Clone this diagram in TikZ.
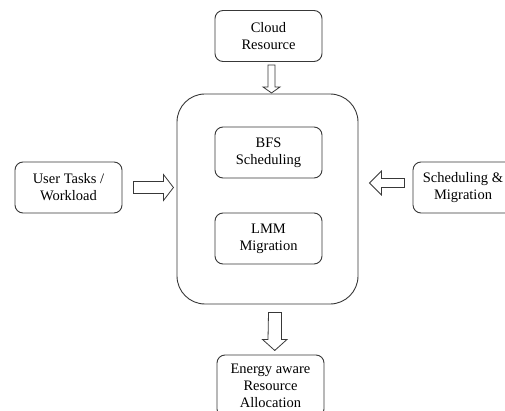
\documentclass[tikz,border=0pt]{standalone}
\usepackage{fontspec}
\setmainfont{Liberation Serif}
\usetikzlibrary{calc}

\tikzset{
  edgecol/.style={draw=black!78, line width=0.9pt},
  box/.style={edgecol, rounded corners=8pt, inner sep=0pt,
    minimum width=107pt, minimum height=51pt, align=center,
    font=\fontsize{14.5}{17}\selectfont},
  label text/.style={inner sep=0pt, align=center,
    font=\fontsize{14.5}{17}\selectfont},
  outerbox/.style={edgecol, rounded corners=28pt, inner sep=0pt,
    minimum width=181pt, minimum height=210pt},
  hollow/.style={edgecol, line width=0.8pt, fill=white, line join=miter}
}

\begin{document}
\begin{tikzpicture}[x=1pt, y=-1pt]
  \useasboundingbox (0,0) rectangle (505,411);
  \clip (0,0) rectangle (505,411);
  \fill[white] (0,0) rectangle (505,411);

  % central block and its two stages
  \node[outerbox] (core) at (267.5,199) {};
  \node[box] (bfs) at (268.5,152.5) {BFS\\Scheduling};
  \node[box] (lmm) at (268.5,238.5) {LMM\\Migration};

  % surrounding inputs and output
  \node[box] (cloud) at (268.5,36) {Cloud\\Resource};
  \node[box] (tasks) at (68.5,187.5) {User Tasks /\\Workload};
  \node[box] (sched) at (466.5,187.5) {};
  \node[label text] (schedtext) at ($(sched.center)+(-3.5,0)$)
    {Scheduling \&\\Migration};
  \node[box, minimum height=62pt] (energy) at (270.5,386)
    {Energy aware\\Resource\\Allocation};

  % anchor points of the block arrows
  \coordinate (topin)  at ($(cloud.south)+(3,3)$);
  \coordinate (leftin) at ($(tasks.east)+(11,0)$);
  \coordinate (rightin) at ($(sched.west)+(-8,-4.5)$);
  \coordinate (botout) at ($(core.south)+(7.5,8)$);

  % Cloud Resource -> core
  \draw[hollow] ($(topin)+(-3.5,0)$) -- ++(7,0) -- ++(0,22) -- ++(5,0)
    -- ++(-8.5,6) -- ++(-8.5,-6) -- ++(5,0) -- cycle;
  % User Tasks -> core
  \draw[hollow] ($(leftin)+(0,-6)$) -- ++(30,0) -- ++(0,-7) -- ++(10,13)
    -- ++(-10,13) -- ++(0,-7) -- ++(-30,0) -- cycle;
  % Scheduling & Migration -> core
  \draw[hollow] ($(rightin)+(0,-4.5)$) -- ++(-23,0) -- ++(0,-7.5)
    -- ++(-12,12) -- ++(12,12) -- ++(0,-7.5) -- ++(23,0) -- cycle;
  % core -> Energy aware Resource Allocation
  \draw[hollow] ($(botout)+(-6.5,0)$) -- ++(13,0) -- ++(0,27) -- ++(5.5,0)
    -- ++(-12.25,11) -- ++(-12.25,-11) -- ++(5.5,0) -- cycle;
\end{tikzpicture}
\end{document}
